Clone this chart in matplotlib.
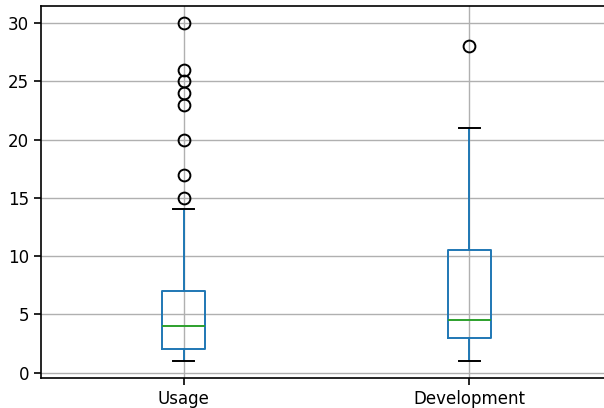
import matplotlib
matplotlib.use("Agg")
import matplotlib.pyplot as plt

# five-number summaries per column
columns = ["Usage", "Development"]
lower_whisker = [1, 1]
q1 = [2, 3]
median = [4, 4.5]
q3 = [7, 10.5]
upper_whisker = [14, 21]
outliers = [
    [15, 17, 20, 23, 24, 25, 26, 30],
    [28],
]

stats = []
for i, name in enumerate(columns):
    stats.append({
        "label": name,
        "whislo": lower_whisker[i],
        "q1": q1[i],
        "med": median[i],
        "q3": q3[i],
        "whishi": upper_whisker[i],
        "fliers": outliers[i],
    })

plt.rcParams["font.size"] = 12

fig = plt.figure(figsize=(6.04, 4.08), dpi=100)
ax = fig.add_axes([41 / 604, 30 / 408, 571 / 604, 372 / 408])

lw = 1.4
ax.bxp(stats,
       boxprops=dict(color="#1f77b4", linewidth=lw),
       whiskerprops=dict(color="#1f77b4", linewidth=lw),
       medianprops=dict(color="#2ca02c", linewidth=lw),
       capprops=dict(color="black", linewidth=lw),
       flierprops=dict(marker="o", markerfacecolor="none", markeredgecolor="black",
                       markersize=8.5, markeredgewidth=1.4))
ax.grid(True, color="#b0b0b0", linewidth=1.0)
ax.set_axisbelow(True)
ax.tick_params(length=5, width=1.2)
for s in ax.spines.values():
    s.set_linewidth(1.2)

fig.savefig("out.png", dpi=100)
